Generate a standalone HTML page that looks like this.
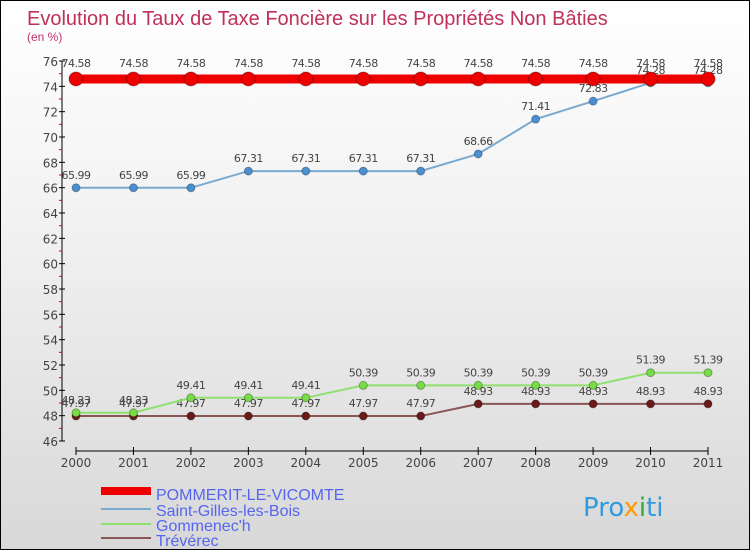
<!DOCTYPE html>
<html><head><meta charset="utf-8"><style>
body{margin:0}
#c{width:750px;height:550px;position:relative;box-sizing:border-box;border:1px solid #000;background:linear-gradient(#fff 0%,#f2f2f2 40%,#d8d8d8 100%);font-family:"DejaVu Sans","Liberation Sans",sans-serif;overflow:hidden}
svg text{font-family:"DejaVu Sans","Liberation Sans",sans-serif}
</style></head><body>
<div id="c">
<svg id="s" width="750" height="550">
<text x="26" y="24" font-size="20" fill="#c0305a" style="font-family:'Liberation Sans',sans-serif">Evolution du Taux de Taxe Foncière sur les Propriétés Non Bâties</text>
<text x="26" y="40" font-size="12" fill="#c0306a" style="font-family:'Liberation Sans',sans-serif">(en %)</text>
<g id="axes"></g><g id="series"></g>
<g>
<rect x="100" y="486" width="50" height="8" fill="#e00"/>
<text x="155" y="499" font-size="16" fill="#5566ee" style="font-family:'Liberation Sans',sans-serif">POMMERIT-LE-VICOMTE</text>
<rect x="100" y="507" width="50" height="2" fill="#7aaad0"/>
<text x="155" y="515" font-size="16" fill="#5566ee" style="font-family:'Liberation Sans',sans-serif">Saint-Gilles-les-Bois</text>
<rect x="100" y="522" width="50" height="2" fill="#90e070"/>
<text x="155" y="530" font-size="16" fill="#5566ee" style="font-family:'Liberation Sans',sans-serif">Gommenec'h</text>
<rect x="100" y="536" width="50" height="2" fill="#8a5555"/>
<text x="155" y="545" font-size="16" fill="#5566ee" style="font-family:'Liberation Sans',sans-serif">Trévérec</text>
</g>
<text x="582" y="515" font-size="26" fill="#3399dd">Pro<tspan fill="#ff9900">x</tspan><tspan fill="#33aa33">i</tspan>ti</text>
</svg>
<script>
const years=["2000","2001","2002","2003","2004","2005","2006","2007","2008","2009","2010","2011"];
const pommerit=[74.58,74.58,74.58,74.58,74.58,74.58,74.58,74.58,74.58,74.58,74.58,74.58];
const saintGilles=[65.99,65.99,65.99,67.31,67.31,67.31,67.31,68.66,71.41,72.83,74.28,74.28];
const gommenech=[48.23,48.23,49.41,49.41,49.41,50.39,50.39,50.39,50.39,50.39,51.39,51.39];
const treverec=[47.97,47.97,47.97,47.97,47.97,47.97,47.97,48.93,48.93,48.93,48.93,48.93];
const yTicks=[46,48,50,52,54,56,58,60,62,64,66,68,70,72,74,76];
const NS="http://www.w3.org/2000/svg";
const yMin=46,yMax=76,yTop=60,yBot=440,x0=75,x1=707;
const X=i=>x0+(x1-x0)*i/(years.length-1);
const Y=v=>yBot-(v-yMin)/(yMax-yMin)*(yBot-yTop);
function mk(t,a,p){const e=document.createElementNS(NS,t);for(const k in a)e.setAttribute(k,a[k]);p.appendChild(e);return e;}
const ax=document.getElementById('axes');
let yl=mk('line',{x1:61,y1:yTop,x2:61,y2:yBot,stroke:'#000'},ax);


yTicks.forEach(t=>{const y=Y(t);
 mk('line',{x1:58,y1:y,x2:64,y2:y,stroke:'#000'},ax);
 if(t<yMax) mk('line',{x1:58,y1:Y(t+1),x2:61,y2:Y(t+1),stroke:'#e00'},ax);
 const tx=mk('text',{x:57,y:y+5,'font-size':12,'text-anchor':'end',fill:'#444'},ax);tx.textContent=t;
 
 });
let xl=mk('line',{x1:75,y1:450,x2:707,y2:450,stroke:'#000'},ax);


years.forEach((yr,i)=>{const x=X(i);mk('line',{x1:x,y1:446,x2:x,y2:454,stroke:'#000'},ax);
 const tx=mk('text',{x:x,y:466,'font-size':12,'text-anchor':'middle',fill:'#444'},ax);tx.textContent=yr;
 
 });
const sg=document.getElementById('series');
function series(vals,name,col,dot,w,r){
 const g=mk('g',{},sg);
 
 
 mk('polyline',{points:vals.map((v,i)=>X(i)+','+Y(v)).join(' '),fill:'none',stroke:col,'stroke-width':w},g);
 vals.forEach((v,i)=>{const c=mk('circle',{cx:X(i),cy:Y(v),r:r,fill:dot,stroke:'rgba(0,0,0,0.3)'},g);
  
  
  const t=mk('text',{x:X(i),y:Y(v)-(r+5),'font-size':11,'text-anchor':'middle',fill:'#444','letter-spacing':'-0.5'},g);t.textContent=v.toFixed(2);
  
  });
}
series(treverec,'treverec','#8a5555','#6a1a1a',2,4);
series(gommenech,'gommenech','#90e070','#77dd44',2,4);
series(saintGilles,'saint-gilles','#7aaad0','#4a90d0',2,4);
series(pommerit,'pommerit','#e00','#e00',9,7);
</script>
</div></body></html>
